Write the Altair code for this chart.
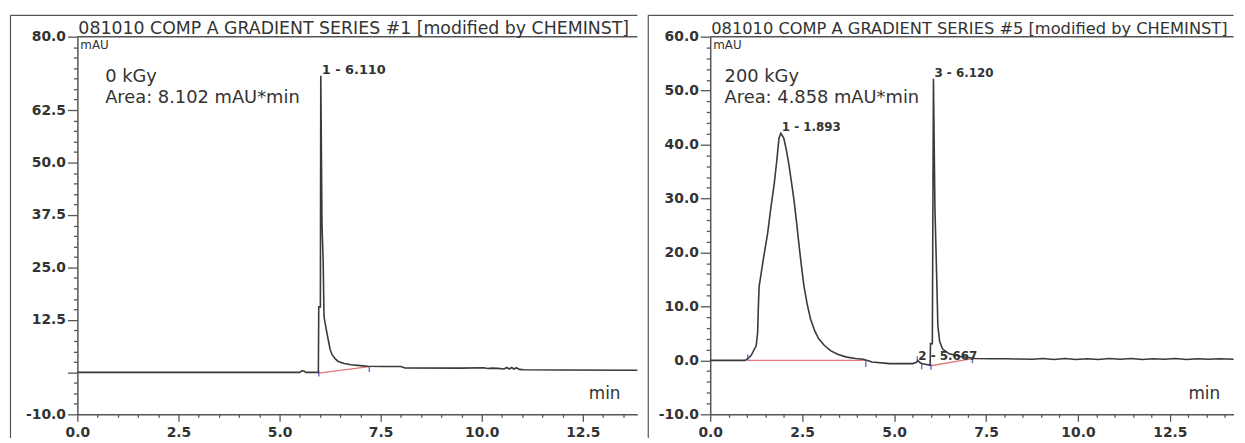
import altair as alt
import pandas as pd

FONT = "DejaVu Sans"
INK = "#333333"
AXC = "#555555"

# ---------------- data ----------------
# left chromatogram, 0 kGy
left_t = [0.00, 5.50, 5.55, 5.60, 5.66, 5.96, 5.97, 6.01, 6.02, 6.05, 6.08, 6.10, 6.15, 6.20,
          6.25, 6.30, 6.38, 6.45, 6.60, 6.77, 7.00, 7.18, 7.60, 8.00, 8.10, 9.50, 10.05, 10.15,
          10.25, 10.40, 10.55, 10.62, 10.68, 10.74, 10.80, 10.86, 10.93, 11.05, 12.00, 13.85]
left_v = [0.0, 0.0, 0.35, 0.30, 0.0, 0.0, 15.6, 15.6, 70.7, 35.3, 26.1, 13.3, 10.5, 8.0,
          5.5, 4.2, 3.2, 2.6, 2.1, 1.8, 1.6, 1.45, 1.4, 1.4, 1.05, 1.0, 1.1, 0.9,
          1.0, 0.95, 0.8, 1.15, 0.8, 1.15, 0.8, 1.1, 0.7, 0.6, 0.55, 0.5]

# right chromatogram, 200 kGy
right_t = [0.00, 0.95, 1.02, 1.11, 1.25, 1.29, 1.31, 1.33, 1.36, 1.45, 1.56, 1.65, 1.74, 1.81,
           1.87, 1.92, 2.00, 2.07, 2.14, 2.21, 2.28, 2.35, 2.41, 2.48, 2.55, 2.64, 2.73, 2.84,
           2.95, 3.10, 3.27, 3.48, 3.71, 3.95, 4.16, 4.40, 4.88, 5.50, 5.60, 5.65, 5.70, 5.75,
           5.98, 5.99, 6.04, 6.07, 6.11, 6.16, 6.19, 6.24, 6.32, 6.50, 6.80, 7.20, 7.60, 8.00,
           8.40, 8.75, 9.05, 9.35, 9.65, 9.95, 10.25, 10.55, 10.85, 11.15, 11.45, 11.75, 12.05,
           12.35, 12.65, 12.95, 13.25, 13.55, 13.85, 14.23]
right_v = [0.0, 0.0, 0.3, 0.9, 2.7, 5.2, 10.1, 13.7, 15.0, 19.0, 23.5, 28.3, 32.7, 37.0,
           41.2, 42.1, 41.2, 39.0, 36.3, 33.0, 29.6, 25.5, 21.7, 17.5, 13.7, 10.3, 7.6, 5.5,
           4.0, 2.8, 1.8, 1.1, 0.6, 0.35, 0.2, -0.3, -0.6, -0.6, -0.4, 0.0, -0.4, -0.6,
           -0.9, 3.1, 3.1, 52.2, 28.4, 15.0, 6.4, 3.5, 2.1, 1.2, 0.7, 0.35, 0.3, 0.3,
           0.25, 0.2, 0.35, 0.15, 0.35, 0.15, 0.3, 0.15, 0.35, 0.2, 0.35, 0.15, 0.3,
           0.2, 0.35, 0.15, 0.3, 0.2, 0.3, 0.2]

# integration baselines (start -> end)
left_base_t0, left_base_v0, left_base_t1, left_base_v1 = [5.97], [-0.2], [7.22], [1.35]
right_base_t0 = [1.02, 6.00]
right_base_v0 = [0.0, -1.0]
right_base_t1 = [4.23, 7.13]
right_base_v1 = [0.0, 0.3]

# integration delimiter marks
left_mark_t, left_mark_v = [5.97, 7.22], [-0.3, 0.8]
right_mark_t = [1.02, 4.23, 5.63, 5.75, 6.00, 7.13]
right_mark_v = [0.5, -0.7, 0.2, -1.1, -1.2, 0.0]

# peak labels
left_peak_t, left_peak_v, left_peak_lab = [6.02], [70.7], ["1 - 6.110"]
right_peak_t = [1.92, 5.63, 6.07]
right_peak_v = [42.1, -0.3, 52.2]
right_peak_lab = ["1 - 1.893", "2 - 5.667", "3 - 6.120"]

# axis ticks
left_x_ticks = [0.5 * i for i in range(0, 28)]
right_x_ticks = [0.5 * i for i in range(0, 29)]
left_y_ticks = [-10 + 2.5 * i for i in range(0, 37)]
right_y_ticks = [-10 + 2 * i for i in range(0, 36)]

titles = ["081010 COMP A GRADIENT SERIES #1 [modified by CHEMINST]",
          "081010 COMP A GRADIENT SERIES #5 [modified by CHEMINST]"]
doses = ["0 kGy", "200 kGy"]
areas = ["Area: 8.102 mAU*min", "Area: 4.858 mAU*min"]

H = 381
L_W, R_W = 565, 528
L_XMAX, R_XMAX = 13.85, 14.23

one = pd.DataFrame({"k": [0]})


def txt(s, x, y, size, weight="normal", align="left"):
    return alt.Chart(one).mark_text(
        align=align, baseline="alphabetic", font=FONT, fontSize=size,
        fontWeight=weight, color=INK
    ).encode(x=alt.value(x), y=alt.value(y), text=alt.value(s))


def rule(x1, y1, x2, y2, color=AXC, w=1.2):
    return alt.Chart(one).mark_rule(color=color, strokeWidth=w).encode(
        x=alt.value(x1), y=alt.value(y1), x2=alt.value(x2), y2=alt.value(y2))


def fmt_expr(test):
    return ("(" + test + ") ? ((datum.value < 0 ? '-' : '') + format(abs(datum.value), '.1f')) : ''")


def panel(t, v, bt0, bv0, bt1, bv1, mt, mv, pt, pv, pl, W, xmax, ymin, ymax,
          xticks, yticks, y_major, y_label, title, title_fs, dose, area,
          ann_x, frame_x, min_x, plab_fs):
    xs = alt.Scale(domain=[0, xmax], nice=False, zero=False)
    ys = alt.Scale(domain=[ymin, ymax], nice=False, zero=False)
    x_major = "datum.value % 2.5 == 0"
    xaxis = alt.Axis(
        values=xticks, title=None, grid=False, labelExpr=fmt_expr(x_major),
        tickSize={"condition": {"test": x_major, "value": 7}, "value": 3},
        labelOverlap=False, labelFlush=False, labelPadding=4,
        labelFont=FONT, labelFontWeight="bold", labelFontSize=14, labelColor=INK,
        domainColor=AXC, domainWidth=1.5, tickColor=AXC, tickWidth=1.3)
    yaxis = alt.Axis(
        values=yticks, title=None, grid=False, labelExpr=fmt_expr(y_label),
        tickSize={"condition": {"test": y_major, "value": 10}, "value": 4},
        labelOverlap=False, labelFlush=False, labelPadding=2,
        labelFont=FONT, labelFontWeight="bold", labelFontSize=14, labelColor=INK,
        domainColor=AXC, domainWidth=1.5, tickColor=AXC, tickWidth=1.3)

    def X(f):
        return alt.X(f, type="quantitative", scale=xs, axis=xaxis)

    def Y(f):
        return alt.Y(f, type="quantitative", scale=ys, axis=yaxis)

    df = pd.DataFrame({"t": t, "v": v})
    bdf = pd.DataFrame({"t0": bt0, "v0": bv0, "t1": bt1, "v1": bv1})
    mdf = pd.DataFrame({"t": mt, "v": mv})
    pdf = pd.DataFrame({"t": pt, "v": pv, "lab": pl})

    base = alt.Chart(bdf).mark_rule(color="#e07878", strokeWidth=1.3).encode(
        x=X("t0"), y=Y("v0"), x2="t1", y2="v1")
    trace = alt.Chart(df).mark_line(color="#3a3a3a", strokeWidth=1.6).encode(
        x=X("t"), y=Y("v"))
    marks = alt.Chart(mdf).mark_tick(orient="vertical", size=6, thickness=1.5,
                                     color="#3b3bb0").encode(x=X("t"), y=Y("v"))
    plab = alt.Chart(pdf).mark_text(
        align="left", baseline="alphabetic", dx=1, dy=-2, font=FONT,
        fontWeight="bold", fontSize=plab_fs, color=INK
    ).encode(x=X("t"), y=Y("v"), text="lab")

    layers = [
        base, trace, marks, plab,
        rule(frame_x, -21.5, W, -21.5),
        rule(frame_x, -21.5, frame_x, 405),
        rule(0, 0, W, 0, w=1.5),
        txt(title, 1, -2.5, title_fs),
        txt("mAU", 3, 12.5, 12),
        txt(dose, ann_x, 46, 18),
        txt(area, ann_x, 67, 18),
        txt("min", min_x, 366, 17),
    ]
    return alt.layer(*layers).properties(width=W, height=H)


L_MAJOR = "datum.value == 80 || datum.value == -10 || (datum.value % 12.5 == 0 && datum.value <= 62.5)"

left = panel(left_t, left_v, left_base_t0, left_base_v0, left_base_t1, left_base_v1,
             left_mark_t, left_mark_v, left_peak_t, left_peak_v, left_peak_lab,
             L_W, L_XMAX, -10, 80, left_x_ticks, left_y_ticks,
             L_MAJOR, "datum.value != 0 && (" + L_MAJOR + ")",
             titles[0], 17.5, doses[0], areas[0], 28, -67.5, 516, 13)

right = panel(right_t, right_v, right_base_t0, right_base_v0, right_base_t1, right_base_v1,
              right_mark_t, right_mark_v, right_peak_t, right_peak_v, right_peak_lab,
              R_W, R_XMAX, -10, 60, right_x_ticks, right_y_ticks,
              "datum.value % 10 == 0", "datum.value % 10 == 0",
              titles[1], 16.4, doses[1], areas[1], 14.5, -62.5, 482.5, 12)

chart = alt.hconcat(left, right, spacing=73.5, bounds="flush").properties(
    padding={"left": 1, "top": 4, "right": 0, "bottom": 0}
).configure_view(stroke=None)

chart.save("out.html", embed_options={"renderer": "svg", "actions": False})
